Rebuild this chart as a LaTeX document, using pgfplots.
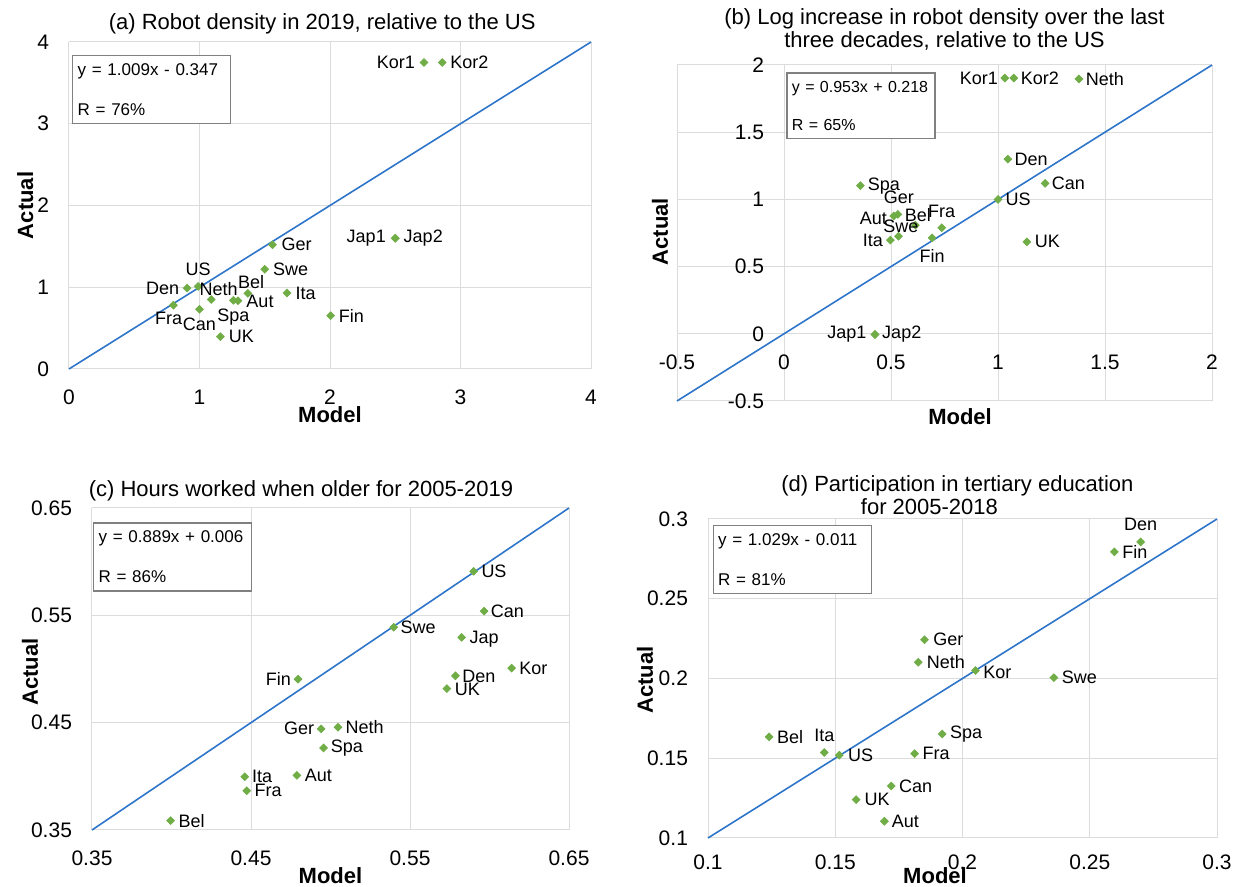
\documentclass[border=0pt]{standalone}
\usepackage{fontspec}
\setmainfont{Liberation Sans}
\usepackage{pgfplots}
\pgfplotsset{compat=1.18}

\definecolor{mkgreen}{RGB}{112,173,71}
\definecolor{lnblue}{RGB}{46,117,202}
\definecolor{gridgray}{RGB}{220,220,220}

\tikzset{
 eqbox/.style={draw=gray, line width=0.6pt, anchor=north west, align=left,
   font=\fontsize{8.5}{20}\selectfont, inner xsep=2.5pt, inner ysep=4pt, text width=74pt, fill=white},
}
\pgfplotsset{
 panel/.style={
  scale only axis,
  anchor=south west,
  axis line style={draw=none},
  major tick length=0pt,
  grid=major,
  major grid style={gridgray, line width=0.5pt},
  tick label style={font=\fontsize{10.5}{12}\selectfont},
  /pgf/number format/assume math mode=true,
  xticklabel style={yshift=-7pt},
  yticklabel style={xshift=-6.5pt},
  label style={font=\bfseries\fontsize{11}{13}\selectfont},
  title style={font=\fontsize{11}{11.5}\selectfont, align=center, anchor=center},
  clip=false,
 },
 pts/.style={only marks, mark=square*, mark size=1.35pt,
   mark options={rotate=45, draw=mkgreen, fill=mkgreen},
   nodes near coords, point meta=explicit symbolic,
   visualization depends on={\thisrow{dx}\as\lx},
   visualization depends on={\thisrow{dy}\as\ly},
   every node near coord/.append style={anchor=center, xshift=\lx pt, yshift=\ly pt,
      font=\fontsize{9}{10}\selectfont, text=black, inner sep=0pt},
 },
 fitline/.style={lnblue, line width=0.8pt, no markers},
}

\begin{document}
\begin{tikzpicture}
\useasboundingbox (0,0) rectangle (621pt,443.5pt);

% ---------------- (a)
\begin{axis}[panel, at={(34.5pt,259pt)}, width=261pt, height=163.5pt,
  xmin=0, xmax=4, ymin=0, ymax=4,
  xtick={0,1,2,3,4}, ytick={0,1,2,3,4},
  title={(a) Robot density in 2019, relative to the US},
  title style={at={(axis description cs:0.485,1.018)}},
  xlabel={Model}, ylabel={Actual},
  xlabel style={at={(axis description cs:0.5,-0.141)}, anchor=center},
  ylabel style={at={(axis description cs:-0.084,0.5)}, anchor=center},
]
\addplot[fitline] coordinates {(0,0) (4,4)};
\addplot[pts] table[x=x, y=y, meta=lab] {
x y lab dx dy
2.72 3.75 Kor1 -14 0
2.86 3.75 Kor2 13.6 0
2.50 1.60 Jap1 -14.5 0
2.50 1.60 Jap2 14 0
1.56 1.52 Ger 12 0
1.50 1.22 Swe 13 0
0.99 1.01 US 0 8.5
0.905 0.99 Den -12.2 0
1.09 0.85 Neth 3.7 5
1.37 0.925 Bel 1.7 5.6
1.295 0.835 Aut 11 -0.5
1.26 0.84 Spa 0 -8.5
1.67 0.93 Ita 9.4 0
0.80 0.78 Fra -2.4 -6.8
1.00 0.73 Can 0 -7.5
1.16 0.395 UK 10.5 0
2.005 0.652 Fin 10.4 0
};
\node[eqbox] at (axis cs:0.024,3.84) {y = 1.009x - 0.347\\R = 76\%};
\end{axis}

% ---------------- (b)
\begin{axis}[panel, at={(338.5pt,243pt)}, width=267.5pt, height=168pt,
  xmin=-0.5, xmax=2, ymin=-0.5, ymax=2,
  xtick={-0.5,0,0.5,1,1.5,2}, ytick={-0.5,0,0.5,1,1.5,2},
  xticklabel style={yshift=33.6pt},
  yticklabel style={xshift=53.5pt},
  title={(b) Log increase in robot density over the last\\three decades, relative to the US},
  title style={at={(axis description cs:0.5,1.070)}},
  xlabel={Model}, ylabel={Actual},
  xlabel style={at={(axis description cs:0.529,-0.048)}, anchor=center},
  ylabel style={at={(axis description cs:-0.032,0.504)}, anchor=center},
]
\addplot[fitline] coordinates {(-0.5,-0.5) (2,2)};
\addplot[pts] table[x=x, y=y, meta=lab] {
x y lab dx dy
1.032 1.903 Kor1 -13 0
1.074 1.903 Kor2 13 0
1.378 1.896 Neth 13 0
1.046 1.299 Den 11.6 0
1.22 1.119 Can 11.6 0
1.0 1.0 US 10 0
1.135 0.684 UK 10.2 0
0.357 1.102 Spa 11.7 0
0.532 0.888 Ger 0.5 8.5
0.513 0.876 Aut -10.2 -1.2
0.614 0.808 Bel 1.2 5
0.737 0.789 Fra 0 8.2
0.535 0.726 Swe 1.2 4.8
0.497 0.697 Ita -8.8 0
0.692 0.714 Fin 0 -9.2
0.425 -0.005 Jap1 -14 0
0.425 -0.005 Jap2 13.4 0
};
\node[eqbox, font=\fontsize{8}{19}\selectfont, text width=69pt] at (axis cs:0.011,1.945) {y = 0.953x + 0.218\\R = 65\%};
\end{axis}

% ---------------- (c)
\begin{axis}[panel, at={(46pt,28.5pt)}, width=238.5pt, height=161pt,
  xmin=0.35, xmax=0.65, ymin=0.35, ymax=0.65,
  xtick={0.35,0.45,0.55,0.65}, ytick={0.35,0.45,0.55,0.65},
  title={(c) Hours worked when older for 2005-2019},
  title style={at={(axis description cs:0.438,1.016)}},
  xlabel={Model}, ylabel={Actual},
  xlabel style={at={(axis description cs:0.5,-0.142)}, anchor=center},
  ylabel style={at={(axis description cs:-0.13,0.49)}, anchor=center},
]
\addplot[fitline] coordinates {(0.35,0.35) (0.65,0.65)};
\addplot[pts] table[x=x, y=y, meta=lab] {
x y lab dx dy
0.590 0.591 US 10.2 0
0.5966 0.5539 Can 11.7 0
0.5398 0.5389 Swe 12.2 0
0.5825 0.5295 Jap 11.2 -0.7
0.6139 0.5008 Kor 10.9 0
0.5786 0.4936 Den 11.7 -0.5
0.5732 0.4818 UK 10.2 -0.5
0.4796 0.4905 Fin -9.9 0
0.4941 0.4443 Ger -11 0
0.5047 0.4458 Neth 13.3 0
0.4956 0.4265 Spa 11.7 0
0.4789 0.4009 Aut 10.7 0
0.446 0.3996 Ita 8.8 0
0.4473 0.3865 Fra 10.7 0
0.3994 0.3587 Bel 10.5 0
};
\node[eqbox] at (axis cs:0.3507,0.6366) {y = 0.889x + 0.006\\R = 86\%};
\end{axis}

% ---------------- (d)
\begin{axis}[panel, at={(354pt,24.5pt)}, width=254.5pt, height=159.5pt,
  xmin=0.1, xmax=0.3, ymin=0.1, ymax=0.3,
  xtick={0.1,0.15,0.2,0.25,0.3}, ytick={0.1,0.15,0.2,0.25,0.3},
  xticklabel style={yshift=2pt},
  title={(d) Participation in tertiary education\\for 2005-2018\hspace*{28pt}},
  title style={at={(axis description cs:0.49,1.038)}},
  xlabel={Model}, ylabel={Actual},
  xlabel style={at={(axis description cs:0.446,-0.119)}, anchor=center},
  ylabel style={at={(axis description cs:-0.124,0.495)}, anchor=center},
]
\addplot[fitline] coordinates {(0.1,0.1) (0.3,0.3)};
\addplot[pts] table[x=x, y=y, meta=lab] {
x y lab dx dy
0.27 0.2856 Den 0 8.7
0.2597 0.2794 Fin 10.2 0
0.1851 0.2243 Ger 11.9 0
0.1826 0.2102 Neth 13.8 0
0.2051 0.205 Kor 11 -0.8
0.2359 0.2005 Swe 12.7 0
0.192 0.1652 Spa 12 0
0.124 0.1634 Bel 10.5 0
0.1457 0.1536 Ita 0 8.5
0.1516 0.1519 US 10.7 0
0.1812 0.1529 Fra 10.7 0
0.172 0.1326 Can 12.2 0
0.1582 0.124 UK 10.5 0
0.1693 0.1105 Aut 10.5 0
};
\node[eqbox] at (axis cs:0.1018,0.2965) {y = 1.029x - 0.011\\R = 81\%};
\end{axis}
\end{tikzpicture}
\end{document}
